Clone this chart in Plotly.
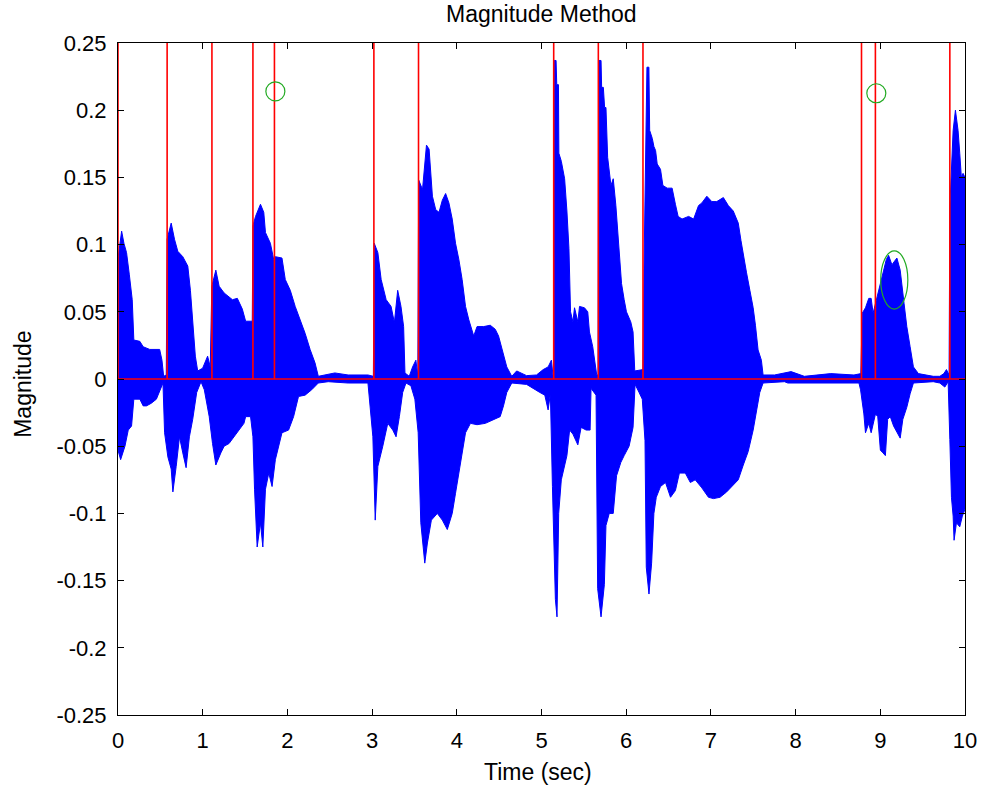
import plotly.graph_objects as go

# ---- waveform envelope (time sec, magnitude) ----
upper_env = [
    (0.000, 0.090), (0.043, 0.110), (0.070, 0.101), (0.101, 0.094), (0.133, 0.078),
    (0.168, 0.059), (0.187, 0.029), (0.258, 0.028), (0.297, 0.024), (0.375, 0.022),
    (0.492, 0.022), (0.519, 0.014), (0.539, 0.002), (0.570, 0.003), (0.580, 0.104),
    (0.628, 0.116), (0.667, 0.104), (0.706, 0.095), (0.765, 0.091), (0.824, 0.084),
    (0.855, 0.066), (0.882, 0.044), (0.913, 0.017), (0.941, 0.006), (0.999, 0.008),
    (1.058, 0.017), (1.089, 0.009), (1.108, 0.069), (1.155, 0.081), (1.194, 0.069),
    (1.253, 0.064), (1.351, 0.059), (1.409, 0.060), (1.468, 0.052), (1.507, 0.043),
    (1.585, 0.043), (1.593, 0.114), (1.624, 0.121), (1.682, 0.130), (1.721, 0.124),
    (1.741, 0.109), (1.799, 0.101), (1.838, 0.089), (1.858, 0.091), (1.936, 0.090),
    (1.975, 0.074), (2.034, 0.066), (2.092, 0.054), (2.151, 0.044), (2.209, 0.034),
    (2.268, 0.022), (2.326, 0.012), (2.365, 0.002), (2.443, 0.003), (2.560, 0.0045),
    (2.717, 0.003), (2.951, 0.003), (3.015, 0.002), (3.025, 0.101), (3.068, 0.094),
    (3.107, 0.074), (3.166, 0.059), (3.224, 0.054), (3.263, 0.042), (3.302, 0.066),
    (3.341, 0.054), (3.372, 0.039), (3.388, 0.0045), (3.439, 0.002), (3.478, 0.009),
    (3.517, 0.014), (3.540, 0.002), (3.550, 0.148), (3.595, 0.141), (3.615, 0.153),
    (3.642, 0.174), (3.673, 0.171), (3.692, 0.153), (3.712, 0.136), (3.751, 0.126),
    (3.790, 0.124), (3.829, 0.133), (3.868, 0.138), (3.907, 0.131), (3.946, 0.119),
    (3.985, 0.101), (4.024, 0.089), (4.063, 0.074), (4.103, 0.054), (4.142, 0.044),
    (4.200, 0.032), (4.239, 0.039), (4.317, 0.039), (4.395, 0.040), (4.454, 0.037),
    (4.493, 0.032), (4.532, 0.022), (4.590, 0.009), (4.649, 0.002), (4.707, 0.006),
    (4.824, 0.0025), (4.941, 0.003), (5.020, 0.007), (5.078, 0.009), (5.117, 0.014),
    (5.135, 0.003), (5.144, 0.003), (5.150, 0.237), (5.172, 0.237), (5.180, 0.219),
    (5.200, 0.219), (5.205, 0.168), (5.234, 0.162), (5.273, 0.149), (5.300, 0.125),
    (5.324, 0.097), (5.343, 0.050), (5.371, 0.0425), (5.390, 0.053), (5.429, 0.0425),
    (5.449, 0.054), (5.507, 0.053), (5.546, 0.050), (5.566, 0.035), (5.605, 0.024),
    (5.636, 0.0086), (5.652, 0.003), (5.668, 0.003), (5.675, 0.237), (5.703, 0.237),
    (5.710, 0.217), (5.730, 0.217), (5.745, 0.202), (5.761, 0.202), (5.770, 0.179),
    (5.781, 0.165), (5.820, 0.144), (5.847, 0.149), (5.878, 0.129), (5.917, 0.092),
    (5.945, 0.071), (5.976, 0.059), (6.003, 0.050), (6.054, 0.0425), (6.081, 0.035),
    (6.101, 0.006), (6.171, 0.007), (6.198, 0.007), (6.210, 0.082), (6.230, 0.195),
    (6.245, 0.232), (6.268, 0.232), (6.277, 0.185), (6.308, 0.179), (6.327, 0.173),
    (6.347, 0.170), (6.366, 0.160), (6.405, 0.156), (6.433, 0.144), (6.484, 0.142),
    (6.542, 0.142), (6.581, 0.130), (6.613, 0.121), (6.659, 0.119), (6.737, 0.121),
    (6.796, 0.119), (6.854, 0.129), (6.893, 0.131), (6.952, 0.136), (7.010, 0.132),
    (7.069, 0.132), (7.147, 0.135), (7.206, 0.129), (7.264, 0.125), (7.323, 0.116),
    (7.355, 0.103), (7.382, 0.092), (7.421, 0.079), (7.460, 0.066), (7.499, 0.053),
    (7.526, 0.040), (7.557, 0.0216), (7.596, 0.014), (7.616, 0.003), (7.752, 0.003),
    (7.947, 0.0055), (8.103, 0.002), (8.415, 0.004), (8.689, 0.003), (8.770, 0.004),
    (8.787, 0.049), (8.825, 0.053), (8.864, 0.060), (8.892, 0.060), (8.915, 0.049),
    (8.943, 0.056), (8.970, 0.061), (9.001, 0.071), (9.040, 0.081), (9.071, 0.089),
    (9.098, 0.092), (9.137, 0.085), (9.196, 0.090), (9.235, 0.081), (9.281, 0.056),
    (9.313, 0.039), (9.352, 0.024), (9.391, 0.009), (9.450, 0.004), (9.528, 0.003),
    (9.625, 0.002), (9.703, 0.002), (9.750, 0.004), (9.781, 0.007), (9.812, 0.003),
    (9.821, 0.128), (9.860, 0.185), (9.887, 0.200), (9.918, 0.185), (9.938, 0.168),
    (9.957, 0.150), (9.977, 0.153), (10.000, 0.150),
]

lower_env = [
    (0.000, -0.053), (0.031, -0.060), (0.082, -0.050), (0.121, -0.038), (0.160, -0.035),
    (0.187, -0.015), (0.258, -0.015), (0.297, -0.020), (0.336, -0.020), (0.394, -0.018),
    (0.453, -0.015), (0.511, -0.0055), (0.531, -0.003), (0.550, -0.040), (0.589, -0.058),
    (0.628, -0.067), (0.648, -0.084), (0.687, -0.065), (0.726, -0.043), (0.765, -0.055),
    (0.804, -0.066), (0.843, -0.043), (0.882, -0.030), (0.929, -0.010), (0.980, -0.002),
    (1.019, -0.008), (1.077, -0.028), (1.116, -0.048), (1.155, -0.064), (1.214, -0.055),
    (1.253, -0.050), (1.311, -0.048), (1.370, -0.043), (1.429, -0.038), (1.487, -0.033),
    (1.507, -0.028), (1.565, -0.028), (1.593, -0.043), (1.612, -0.082), (1.643, -0.125),
    (1.682, -0.107), (1.710, -0.125), (1.741, -0.082), (1.780, -0.070), (1.819, -0.080),
    (1.858, -0.060), (1.936, -0.040), (2.014, -0.038), (2.073, -0.028), (2.131, -0.013),
    (2.209, -0.012), (2.287, -0.008), (2.365, -0.003), (2.482, -0.002), (2.717, -0.003),
    (2.951, -0.003), (3.009, -0.043), (3.037, -0.105), (3.068, -0.065), (3.126, -0.050),
    (3.185, -0.033), (3.244, -0.038), (3.283, -0.043), (3.322, -0.028), (3.361, -0.010),
    (3.400, -0.003), (3.458, -0.005), (3.505, -0.015), (3.544, -0.040), (3.575, -0.107),
    (3.622, -0.137), (3.653, -0.122), (3.700, -0.105), (3.770, -0.100), (3.829, -0.105),
    (3.888, -0.112), (3.946, -0.100), (3.985, -0.085), (4.024, -0.070), (4.063, -0.055),
    (4.103, -0.040), (4.161, -0.033), (4.239, -0.034), (4.337, -0.033), (4.434, -0.030),
    (4.512, -0.028), (4.551, -0.020), (4.590, -0.010), (4.649, -0.003), (4.824, -0.004),
    (4.980, -0.010), (5.039, -0.012), (5.078, -0.023), (5.105, -0.011), (5.129, -0.080),
    (5.164, -0.164), (5.183, -0.177), (5.203, -0.100), (5.234, -0.075), (5.273, -0.064),
    (5.300, -0.057), (5.332, -0.038), (5.371, -0.041), (5.429, -0.049), (5.468, -0.036),
    (5.527, -0.038), (5.574, -0.038), (5.585, -0.007), (5.624, -0.010), (5.644, -0.012),
    (5.663, -0.156), (5.703, -0.177), (5.742, -0.153), (5.761, -0.109), (5.800, -0.100),
    (5.847, -0.100), (5.886, -0.072), (5.937, -0.062), (5.976, -0.057), (6.034, -0.050),
    (6.081, -0.036), (6.105, -0.004), (6.152, -0.010), (6.190, -0.015), (6.222, -0.046),
    (6.237, -0.140), (6.269, -0.160), (6.300, -0.137), (6.327, -0.100), (6.355, -0.088),
    (6.405, -0.080), (6.464, -0.077), (6.523, -0.088), (6.581, -0.083), (6.628, -0.070),
    (6.698, -0.070), (6.757, -0.077), (6.815, -0.075), (6.893, -0.081), (6.971, -0.088),
    (7.030, -0.089), (7.108, -0.088), (7.186, -0.084), (7.264, -0.079), (7.323, -0.075),
    (7.382, -0.064), (7.440, -0.054), (7.499, -0.038), (7.538, -0.025), (7.577, -0.010),
    (7.616, -0.003), (7.869, -0.002), (7.908, -0.003), (8.748, -0.003), (8.767, -0.008),
    (8.806, -0.026), (8.825, -0.040), (8.864, -0.033), (8.892, -0.040), (8.915, -0.033),
    (8.943, -0.026), (8.970, -0.028), (9.001, -0.053), (9.032, -0.055), (9.060, -0.057),
    (9.087, -0.030), (9.118, -0.028), (9.157, -0.035), (9.196, -0.040), (9.235, -0.044),
    (9.266, -0.030), (9.313, -0.021), (9.352, -0.011), (9.391, -0.003), (9.625, -0.002),
    (9.703, -0.003), (9.762, -0.006), (9.801, -0.002), (9.821, -0.045), (9.840, -0.088),
    (9.860, -0.102), (9.871, -0.120), (9.899, -0.107), (9.938, -0.110), (9.969, -0.102),
    (10.000, -0.097),
]

# ---- detected boundaries (red) ----
boundary_times = [0.0, 0.58, 1.109, 1.593, 1.847, 3.021, 3.548, 5.144, 5.671, 6.198,
                  8.778, 8.942, 9.821]
boundary_top = 0.30
baseline_x = [0.0, 10.0]
baseline_y = [0.0, 0.0]

# ---- green markers ----
circle_t = [1.858, 8.953]
circle_v = [0.214, 0.2126]
ellipse_center = (9.165, 0.0737)
ellipse_semi = (0.160, 0.0217)

# ---- axes ----
x_ticks = list(range(0, 11))
y_ticks = [0.25, 0.2, 0.15, 0.1, 0.05, 0, -0.05, -0.1, -0.15, -0.2, -0.25]
y_ticktext = ["0.25", "0.2", "0.15", "0.1", "0.05", "0", "-0.05", "-0.1", "-0.15", "-0.2", "-0.25"]

BLUE = "#0000FF"
RED = "#FF0000"
GREEN = "#22AA22"
FONT = "Liberation Sans, Arial, sans-serif"

fig = go.Figure()

for env in (upper_env, lower_env):
    fig.add_trace(go.Scatter(
        x=[p[0] for p in env], y=[p[1] for p in env],
        mode="lines", line=dict(color=BLUE, width=1), fill="tozeroy", fillcolor=BLUE,
        showlegend=False, hoverinfo="skip"))

# red vertical boundaries
vx, vy = [], []
for tb in boundary_times:
    vx += [tb, tb, None]
    vy += [0.0, boundary_top, None]
fig.add_trace(go.Scatter(x=vx, y=vy, mode="lines", line=dict(color=RED, width=1.6),
                         showlegend=False, hoverinfo="skip"))
fig.add_trace(go.Scatter(x=baseline_x, y=baseline_y, mode="lines",
                         line=dict(color=RED, width=1.6), showlegend=False, hoverinfo="skip"))

# green circles
fig.add_trace(go.Scatter(x=circle_t, y=circle_v, mode="markers",
                         marker=dict(symbol="circle-open", size=19, color=GREEN,
                                     line=dict(width=1.2, color=GREEN)),
                         showlegend=False, hoverinfo="skip"))
cx, cy = ellipse_center
ax_, ay_ = ellipse_semi
fig.add_shape(type="circle", xref="x", yref="y",
              x0=cx - ax_, x1=cx + ax_, y0=cy - ay_, y1=cy + ay_,
              line=dict(color=GREEN, width=1.2))

axis_common = dict(showline=True, linecolor="black", linewidth=1, mirror="ticks",
                   ticks="inside", ticklen=6, tickcolor="black", tickwidth=1,
                   showgrid=False, zeroline=False,
                   tickfont=dict(family=FONT, size=22, color="black"))

fig.update_xaxes(range=[0, 10], tickvals=x_ticks, ticklabelstandoff=6, **axis_common)
fig.update_yaxes(range=[-0.25, 0.25], tickvals=y_ticks, ticktext=y_ticktext,
                 ticklabelstandoff=6, **axis_common)

fig.update_layout(
    width=989, height=792,
    margin=dict(l=118, r=17, t=43, b=77),
    paper_bgcolor="white", plot_bgcolor="white",
    showlegend=False,
    annotations=[
        dict(text="Magnitude Method", xref="paper", yref="paper", x=0.5, y=(715 - 14) / 672,
             xanchor="center", yanchor="middle", showarrow=False,
             font=dict(family=FONT, size=23, color="black")),
        dict(text="Time (sec)", xref="paper", yref="paper", x=(541 - 118) / 854,
             y=(715 - 772) / 672, xanchor="center", yanchor="middle", showarrow=False,
             font=dict(family=FONT, size=23, color="black")),
        dict(text="Magnitude", xref="paper", yref="paper", x=(22 - 118) / 854,
             y=(715 - 384) / 672, xanchor="center", yanchor="middle", showarrow=False,
             textangle=-90, font=dict(family=FONT, size=23, color="black")),
    ],
)

fig.write_html("out.html")
